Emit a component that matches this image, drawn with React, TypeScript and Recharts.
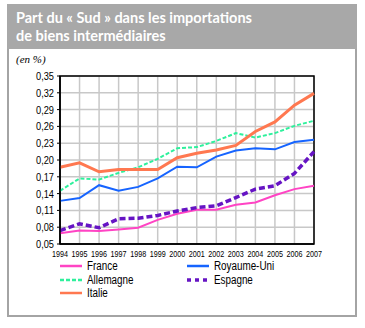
import React from 'react'
import { LineChart, Line, XAxis, YAxis, CartesianGrid, ReferenceArea } from 'recharts'

const years = [1994, 1995, 1996, 1997, 1998, 1999, 2000, 2001, 2002, 2003, 2004, 2005, 2006, 2007]

const france = [0.069, 0.074, 0.073, 0.076, 0.079, 0.093, 0.104, 0.111, 0.111, 0.12, 0.124, 0.137, 0.148, 0.154]
const royaumeUni = [0.127, 0.132, 0.155, 0.145, 0.152, 0.167, 0.188, 0.187, 0.206, 0.217, 0.221, 0.219, 0.232, 0.236]
const allemagne = [0.145, 0.167, 0.165, 0.177, 0.187, 0.202, 0.221, 0.223, 0.234, 0.248, 0.24, 0.248, 0.261, 0.27]
const espagne = [0.074, 0.086, 0.079, 0.095, 0.096, 0.101, 0.109, 0.115, 0.118, 0.133, 0.148, 0.154, 0.176, 0.215]
const italie = [0.187, 0.195, 0.179, 0.183, 0.183, 0.183, 0.204, 0.212, 0.218, 0.226, 0.251, 0.268, 0.298, 0.319]

const yTicks = [0.05, 0.08, 0.11, 0.14, 0.17, 0.2, 0.23, 0.26, 0.29, 0.32, 0.35]

const series = [
  { key: 'allemagne', name: 'Allemagne', color: '#2ef09c', width: 2, dash: '4 2' },
  { key: 'italie', name: 'Italie', color: '#ff7850', width: 3, dash: undefined },
  { key: 'royaumeUni', name: 'Royaume-Uni', color: '#1664ff', width: 2, dash: undefined },
  { key: 'france', name: 'France', color: '#ff44c4', width: 2, dash: undefined },
  { key: 'espagne', name: 'Espagne', color: '#6614c4', width: 3.5, dash: '6 3' },
]

// legend order as in the original (two columns)
const legendOrder = ['france', 'royaumeUni', 'allemagne', 'espagne', 'italie']

const data = years.map((year, i) => ({
  year,
  france: france[i],
  royaumeUni: royaumeUni[i],
  allemagne: allemagne[i],
  espagne: espagne[i],
  italie: italie[i],
}))

const font = '"Liberation Sans", sans-serif'

// condensed tick text (the original uses a narrow face)
const YearTick = ({ x, y, payload }: any) => (
  <text x={x} y={y + 5} textAnchor="middle" fontSize={9.5} fontFamily={font} fill="#000" textLength={16} lengthAdjust="spacingAndGlyphs">
    {payload.value}
  </text>
)

const ValueTick = ({ x, y, payload }: any) => (
  <text x={x - 1} y={y + 4} textAnchor="end" fontSize={11} fontFamily={font} fill="#000" textLength={18} lengthAdjust="spacingAndGlyphs">
    {Number(payload.value).toFixed(2).replace('.', ',')}
  </text>
)

export default function App() {
  return (
    <div style={{ position: 'absolute', left: 0, top: 0, width: 365, height: 328, background: '#fff', overflow: 'hidden' }}>
      {/* frame */}
      <div style={{ position: 'absolute', left: 7, top: 4, width: 346, height: 309, border: '2px solid #a4a4a4' }} />
      {/* title band */}
      <div
        style={{
          position: 'absolute', left: 7, top: 4, width: 350, height: 45, background: '#a8a8a8',
          color: '#fff', fontFamily: 'Lato, sans-serif', fontWeight: 700, fontSize: 14.5, lineHeight: '18px',
          paddingLeft: 9, paddingTop: 5, boxSizing: 'border-box',
        }}
      >
        Part du « Sud » dans les importations<br />de biens intermédiaires
      </div>
      <div style={{ position: 'absolute', left: 16, top: 53, fontFamily: '"Liberation Serif", serif', fontStyle: 'italic', fontSize: 11 }}>
        (en %)
      </div>

      <div style={{ position: 'absolute', left: 0, top: 0 }}>
        <LineChart width={365} height={328} data={data} margin={{ top: 76, right: 51, bottom: 64, left: 0 }}>
          <CartesianGrid stroke="#c8c8c8" strokeWidth={1.5} />
          <XAxis
            dataKey="year"
            height={20}
            interval={0}
            tickLine={false}
            axisLine={{ stroke: '#000', strokeWidth: 1.5 }}
            tick={<YearTick />}
          />
          <YAxis
            width={60}
            domain={[0.05, 0.35]}
            ticks={yTicks}
            interval={0}
            tickSize={3}
            tickLine={{ stroke: '#000' }}
            axisLine={{ stroke: '#000', strokeWidth: 1.5 }}
            tick={<ValueTick />}
          />
          <ReferenceArea x1={1994} x2={2007} y1={0.05} y2={0.35} fill="none" stroke="#000" strokeWidth={1.5} ifOverflow="visible" />
          {series.map(s => (
            <Line
              key={s.key}
              type="linear"
              dataKey={s.key}
              name={s.name}
              stroke={s.color}
              strokeWidth={s.width}
              strokeDasharray={s.dash}
              dot={false}
              isAnimationActive={false}
            />
          ))}
        </LineChart>
      </div>

      {/* legend */}
      {legendOrder.map((k, i) => {
        const s = series.find(x => x.key === k)!
        const col = i % 2
        const row = Math.floor(i / 2)
        const left = col === 0 ? 60 : 187
        const top = 259 + row * 13.5
        return (
          <div key={k} style={{ position: 'absolute', left, top, height: 14, display: 'flex', alignItems: 'center' }}>
            <svg width={24} height={6} style={{ marginRight: 3 }}>
              <line
                x1={0} y1={3} x2={22} y2={3}
                stroke={s.color}
                strokeWidth={s.key === 'espagne' ? 3.5 : 2.5}
                strokeDasharray={s.key === 'espagne' ? '4 4' : s.dash}
              />
            </svg>
            <span style={{ fontFamily: font, fontSize: 12, color: '#000', display: 'inline-block', transform: 'scaleX(0.82)', transformOrigin: 'left center' }}>
              {s.name}
            </span>
          </div>
        )
      })}
    </div>
  )
}
